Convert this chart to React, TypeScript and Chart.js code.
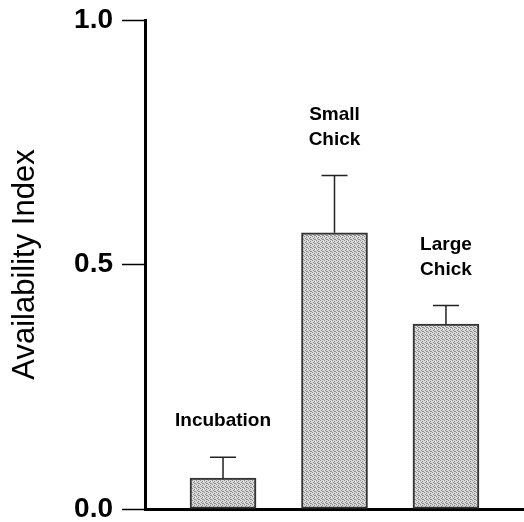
import React, { useEffect, useRef } from "react";
import { Chart, registerables } from "chart.js";

Chart.register(...registerables);

// ---- data ----
const categoryLines: string[][] = [["Incubation"], ["Small", "Chick"], ["Large", "Chick"]];
const categoryPositions = [1, 2, 3];
const meanValues = [0.063, 0.565, 0.378];
const errorValues = [0.043, 0.117, 0.038];
const yTickValues = [0, 0.5, 1.0];
const yTitle = "Availability Index";

const FONT = '"Liberation Sans", Arial, Helvetica, sans-serif';

function makePattern(ctx: CanvasRenderingContext2D): CanvasPattern | string {
  const c = document.createElement("canvas");
  c.width = 4;
  c.height = 4;
  const g = c.getContext("2d");
  if (!g) return "#c4c4c4";
  g.fillStyle = "#d8d8d8";
  g.fillRect(0, 0, 4, 4);
  g.fillStyle = "#8c8c8c";
  const dots = [
    [0, 0],
    [2, 1],
    [1, 2],
    [3, 3],
    [2, 3],
  ];
  dots.forEach(([x, y]) => g.fillRect(x, y, 1, 1));
  return ctx.createPattern(c, "repeat") || "#c4c4c4";
}

const overlayPlugin = {
  id: "errorAndLabels",
  afterDatasetsDraw(chart: any) {
    const { ctx, scales } = chart;
    const x = scales.x;
    const y = scales.y;
    ctx.save();
    categoryPositions.forEach((p, i) => {
      const cx = x.getPixelForValue(p);
      const y0 = y.getPixelForValue(meanValues[i]);
      const y1 = y.getPixelForValue(meanValues[i] + errorValues[i]);
      ctx.strokeStyle = "#222";
      ctx.lineWidth = 1.5;
      ctx.beginPath();
      ctx.moveTo(cx, y0);
      ctx.lineTo(cx, y1);
      ctx.moveTo(cx - 13, y1);
      ctx.lineTo(cx + 13, y1);
      ctx.stroke();

      const lines = categoryLines[i];
      ctx.fillStyle = "#000";
      ctx.font = `bold 19px ${FONT}`;
      ctx.textAlign = "center";
      ctx.textBaseline = "middle";
      lines.forEach((ln, j) => {
        ctx.fillText(ln, cx, y1 - 36 - (lines.length - 1 - j) * 25);
      });
    });
    ctx.restore();
  },
};

export default function App() {
  const canvasRef = useRef<HTMLCanvasElement | null>(null);

  useEffect(() => {
    document.body.style.margin = "0";
    const canvas = canvasRef.current;
    if (!canvas) return;
    const ctx = canvas.getContext("2d");
    if (!ctx) return;
    const pattern = makePattern(ctx);

    const chart = new Chart(ctx, {
      type: "bar",
      data: {
        datasets: [
          {
            data: categoryPositions.map((p, i) => ({ x: p, y: meanValues[i] })),
            backgroundColor: pattern as any,
            borderColor: "#333",
            borderWidth: 2,
            borderSkipped: false,
            barThickness: 66,
          },
        ],
      },
      options: {
        responsive: false,
        animation: false,
        layout: { autoPadding: false, padding: { top: 20, right: 0, bottom: 0, left: 0 } },
        plugins: {
          legend: { display: false },
          tooltip: { enabled: false },
        },
        scales: {
          x: {
            type: "linear",
            offset: false,
            min: 0.3,
            max: 3.7,
            ticks: { display: false },
            grid: { display: false, drawTicks: false },
            border: { display: true, color: "#000", width: 3 },
            afterFit: (s: any) => {
              s.height = 13;
              s.paddingLeft = 0;
              s.paddingRight = 0;
            },
          },
          y: {
            type: "linear",
            min: 0,
            max: 1,
            afterBuildTicks: (s: any) => {
              s.ticks = yTickValues.map((v) => ({ value: v }));
            },
            ticks: {
              callback: (v: any) => Number(v).toFixed(1),
              font: { family: FONT, size: 28, weight: "bold" },
              color: "#000",
              padding: 9,
            },
            grid: {
              drawOnChartArea: false,
              drawTicks: true,
              tickLength: 23,
              tickColor: "#000",
              tickWidth: 1.5,
              color: "#000",
            },
            border: { display: true, color: "#000", width: 3 },
            title: {
              display: true,
              text: yTitle,
              font: { family: FONT, size: 31 },
              color: "#000",
              padding: { top: 7, bottom: 0 },
            },
            afterFit: (s: any) => {
              s.width = 145;
              s.paddingTop = 0;
              s.paddingBottom = 0;
            },
          },
        },
      },
      plugins: [overlayPlugin],
    } as any);

    return () => chart.destroy();
  }, []);

  return (
    <div style={{ width: 524, height: 522 }}>
      <canvas ref={canvasRef} width={524} height={522} style={{ display: "block" }} />
    </div>
  );
}
